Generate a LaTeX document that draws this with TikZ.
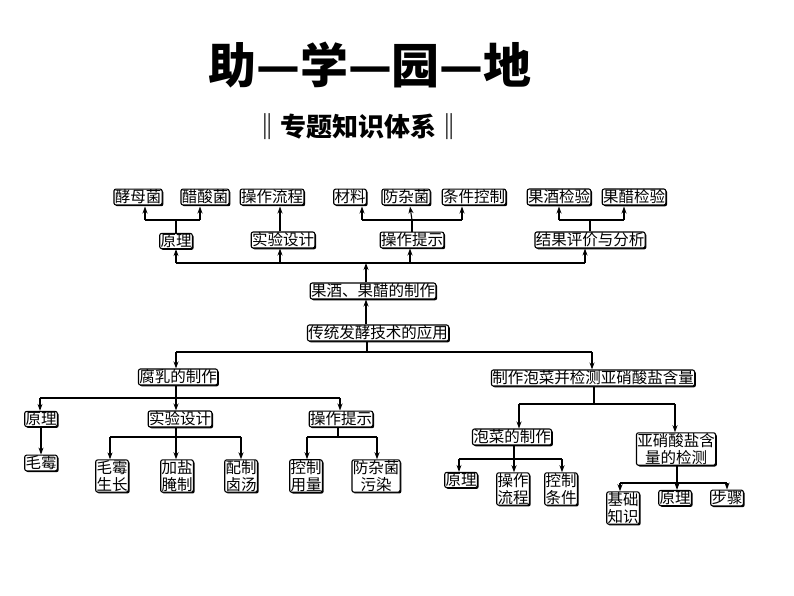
\documentclass[tikz,border=0pt]{standalone}
\usepackage{fontspec}
\setmainfont{Noto Sans CJK SC}
\usetikzlibrary{shadows,arrows.meta}
\begin{document}
\begin{tikzpicture}[x=1pt,y=-1pt,
  bx/.style={draw,line width=1.1pt,rounded corners=2pt,fill=white,inner sep=0.8pt,
    font=\fontsize{15.5}{16.5}\selectfont,align=center,
    drop shadow={shadow xshift=1.3pt,shadow yshift=-1.3pt,fill=black,opacity=1}},
  ln/.style={line width=1.1pt},
  arr/.style={line width=1.1pt,-{Stealth[length=7pt,width=5pt]}}]
\useasboundingbox (0,0) rectangle (794,596);
\node (title) at (370,65) {\fontsize{48}{52}\selectfont\bfseries 助—学—园—地};
\node (sub) at (358,127) {\fontsize{26}{28}\selectfont\bfseries ‖专题知识体系‖};
% top part
\node[bx] (a1) at (138,197) {酵母菌};
\node[bx] (a2) at (205,197) {醋酸菌};
\node[bx] (a3) at (272,197) {操作流程};
\node[bx] (a4) at (350,197) {材料};
\node[bx] (a5) at (406,197) {防杂菌};
\node[bx] (a6) at (474,197) {条件控制};
\node[bx] (a7) at (559,197) {果酒检验};
\node[bx] (a8) at (634,197) {果醋检验};
\node[bx] (b1) at (176,241) {原理};
\node[bx] (b2) at (283,240) {实验设计};
\node[bx] (b3) at (412,240) {操作提示};
\node[bx] (b4) at (590,240) {结果评价与分析};
\node[bx] (g) at (373,291) {果酒、果醋的制作};
\node[bx] (t) at (378,333) {传统发酵技术的应用};
\coordinate (bus) at (0,263);
\coordinate (j) at (0,220);
% branches up
\draw[ln] (b1.north) -- (b1.north|-j);
\draw[ln] (145,220) -- (200,220);
\draw[arr] (145,220) -- (145,206.5);
\draw[arr] (200,220) -- (200,206.5);
\draw[arr] (b2.north -| 280,0) -- (280,206.5);
\draw[ln] (b3.north) -- (b3.north|-j);
\draw[ln] (362,220) -- (462,220);
\draw[arr] (362,220) -- (362,206.5);
\draw[arr] (b3.north|-j) -- (410,206.5);
\draw[arr] (462,220) -- (462,206.5);
\draw[ln] (b4.north) -- (b4.north|-j);
\draw[ln] (559,220) -- (624,220);
\draw[arr] (559,220) -- (559,206.5);
\draw[arr] (624,220) -- (624,206.5);
\draw[ln] (176,263) -- (585,263);
\draw[arr] (176,263) -- (b1.south-|176,0);
\draw[arr] (280,263) -- (b2.south-|280,0);
\draw[arr] (410,263) -- (b3.south-|410,0);
\draw[arr] (585,263) -- (b4.south-|585,0);
\draw[arr] (g.north-|366,0) -- (366,263);
\draw[arr] (t.north-|366,0) -- (g.south-|366,0);
% bottom
\node[bx] (f) at (178,377) {腐乳的制作};
\node[bx] (p) at (593,378) {制作泡菜并检测亚硝酸盐含量};
\draw[ln] (t.south-|367,0) -- (367,352);
\draw[ln] (176,352) -- (592,352);
\draw[arr] (176,352) -- (f.north-|176,0);
\draw[arr] (592,352) -- (p.north-|592,0);
\node[bx] (c1) at (41,419) {原理};
\node[bx] (c2) at (180,419) {实验设计};
\node[bx] (c3) at (341,419) {操作提示};
\draw[ln] (f.south-|176,0) -- (176,398);
\draw[ln] (40,398) -- (340,398);
\draw[arr] (40,398) -- (c1.north-|40,0);
\draw[arr] (176,398) -- (c2.north-|176,0);
\draw[arr] (340,398) -- (c3.north-|340,0);
\node[bx] (m) at (41,463) {毛霉};
\draw[arr] (c1) -- (m);
\node[bx] (d1) at (112,476) {毛霉\\生长};
\node[bx] (d2) at (177,476) {加盐\\腌制};
\node[bx] (d3) at (241,476) {配制\\卤汤};
\draw[ln] (c2.south-|176,0) -- (176,437);
\draw[ln] (110,437) -- (241,437);
\draw[arr] (110,437) -- (d1.north-|110,0);
\draw[arr] (176,437) -- (d2.north-|176,0);
\draw[arr] (241,437) -- (d3.north-|241,0);
\node[bx] (e1) at (306,476) {控制\\用量};
\node[bx] (e2) at (376,476) {防杂菌\\污染};
\draw[ln] (c3.south-|338,0) -- (338,437);
\draw[ln] (307,437) -- (377,437);
\draw[arr] (307,437) -- (e1.north-|307,0);
\draw[arr] (377,437) -- (e2.north-|377,0);
\node[bx] (q1) at (512,437) {泡菜的制作};
\node[bx] (q2) at (676,449) {亚硝酸盐含\\量的检测};
\draw[ln] (p.south-|594,0) -- (594,404);
\draw[ln] (519,404) -- (675,404);
\draw[arr] (519,404) -- (q1.north-|519,0);
\draw[arr] (675,404) -- (q2.north-|675,0);
\node[bx] (r1) at (461,480) {原理};
\node[bx] (r2) at (513,489) {操作\\流程};
\node[bx] (r3) at (561,489) {控制\\条件};
\draw[ln] (q1.south-|514,0) -- (514,459);
\draw[ln] (459,459) -- (562,459);
\draw[arr] (459,459) -- (r1.north-|459,0);
\draw[arr] (514,459) -- (r2.north-|514,0);
\draw[arr] (562,459) -- (r3.north-|562,0);
\node[bx] (s1) at (623,508) {基础\\知识};
\node[bx] (s2) at (675,498) {原理};
\node[bx] (s3) at (727,498) {步骤};
\draw[ln] (q2.south-|677,0) -- (677,483);
\draw[ln] (620,483) -- (727,483);
\draw[arr] (620,483) -- (s1.north-|620,0);
\draw[arr] (677,483) -- (s2.north-|677,0);
\draw[arr] (727,483) -- (s3.north-|727,0);
\end{tikzpicture}
\end{document}
